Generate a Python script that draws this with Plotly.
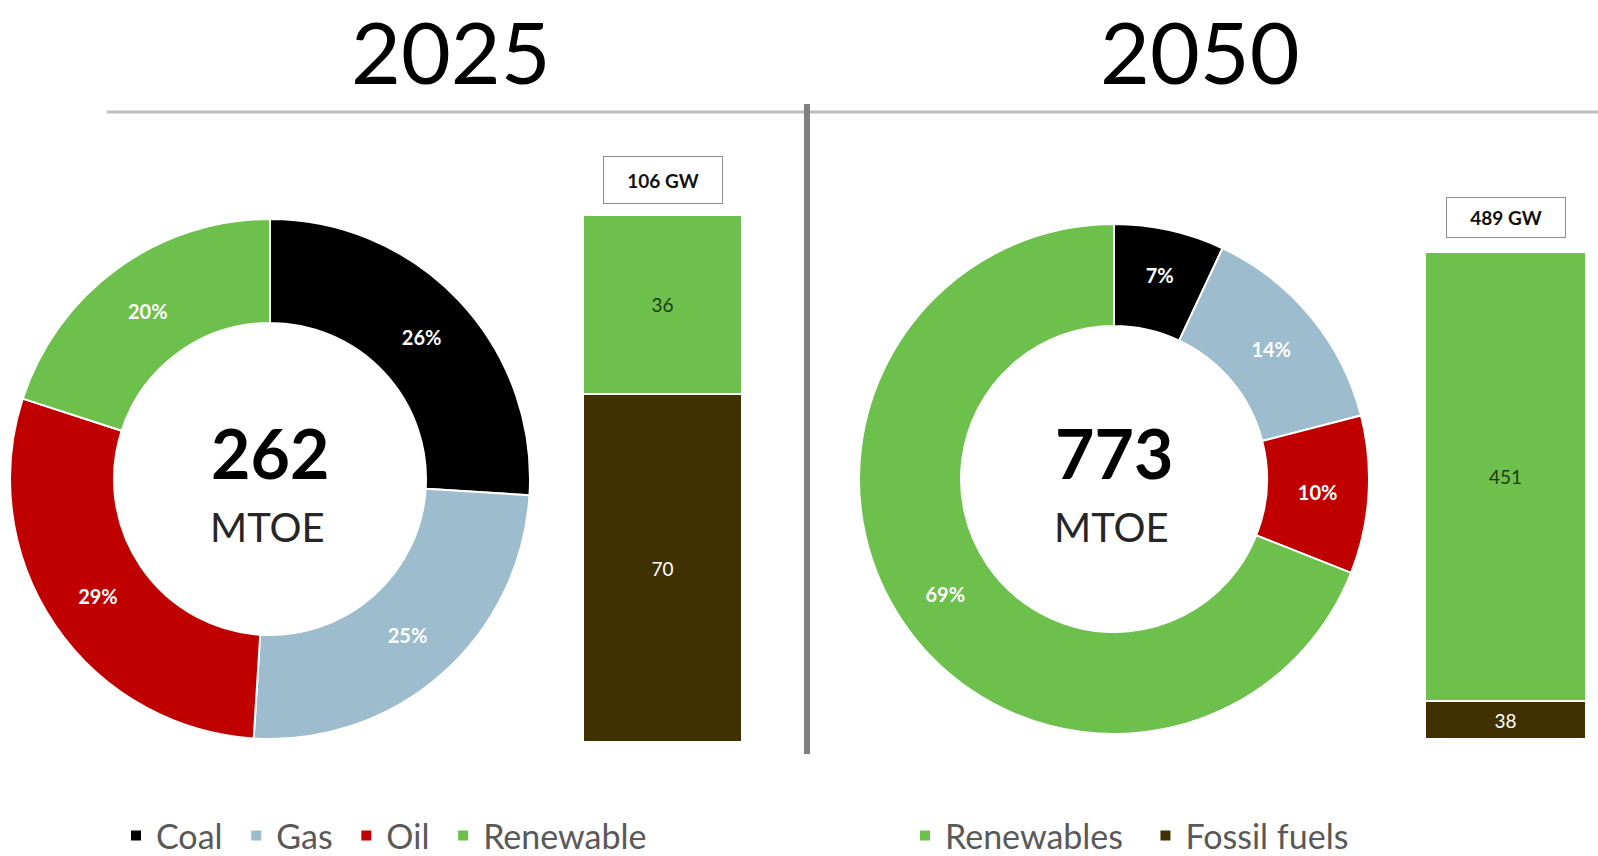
import plotly.graph_objects as go

W, H = 1598, 856

# ---------------- data ----------------
years = ["2025", "2050"]
mix_labels = ["Coal", "Gas", "Oil", "Renewable"]
mix_share_2025 = [26, 25, 29, 20]
mix_share_2050 = [7, 14, 10, 69]
total_mtoe = [262, 773]
mtoe_unit = "MTOE"

cap_labels = ["Fossil fuels", "Renewables"]
cap_2025 = [70, 36]
cap_2050 = [38, 451]
cap_total = [106, 489]

# ---------------- styles ----------------
mix_colors = ["#000000", "#9dbccd", "#c00000", "#6cc04b"]
cap_colors = ["#3f3200", "#6cc04b"]
cap_text_colors = ["#ffffff", "#1e3a12"]
FONT = "Lato"
PAD1 = "\u00a0"          # extra spacing between legend entries (left legend)
PAD2 = "\u00a0\u00a0"    # extra spacing between legend entries (right legend)

def px_x(v):
    return v / W

def px_y(v):  # pixel from top -> paper
    return 1 - v / H

fig = go.Figure()

# legend-friendly labels (last entry of each legend gets no padding)
mix_legend_labels = [lab + PAD1 for lab in mix_labels[:-1]] + [mix_labels[-1]]
cap_legend_labels = [cap_labels[0], cap_labels[1] + PAD2]

# donuts
pie_geo = [  # (cx, cy, r) in pixels
    (270, 479, 260),
    (1114, 479, 255),
]
for i, shares in enumerate([mix_share_2025, mix_share_2050]):
    cx, cy, r = pie_geo[i]
    fig.add_trace(go.Pie(
        labels=mix_legend_labels,
        values=shares,
        hole=0.6,
        sort=False,
        direction="clockwise",
        rotation=0,
        marker=dict(colors=mix_colors, line=dict(color="#ffffff", width=2)),
        texttemplate="<b>%{value}%</b>",
        textposition="inside",
        insidetextorientation="horizontal",
        textfont=dict(family=FONT, size=20, color="#ffffff"),
        domain=dict(x=[px_x(cx - r), px_x(cx + r)], y=[px_y(cy + r), px_y(cy - r)]),
        showlegend=(i == 0),
        legend="legend",
        hoverinfo="label+percent",
    ))

# stacked capacity bars
bar_geo = [  # (x0, x1, ytop, ybottom) pixels
    (583, 742, 215, 742),
    (1425, 1586, 252, 739),
]
for i, vals in enumerate([cap_2025, cap_2050]):
    xa = "x" if i == 0 else "x2"
    ya = "y" if i == 0 else "y2"
    for j, lab in enumerate(cap_legend_labels):
        fig.add_trace(go.Bar(
            x=[years[i]], y=[vals[j]], name=lab,
            xaxis=xa, yaxis=ya, width=1,
            marker=dict(color=cap_colors[j], line=dict(color="#ffffff", width=2)),
            text=[vals[j]], texttemplate="%{text}",
            textposition="inside", insidetextanchor="middle",
            textfont=dict(family=FONT, size=19, color=cap_text_colors[j]),
            constraintext="none",
            showlegend=(i == 1), legend="legend2",
        ))

layout_axes = {}
for i in range(2):
    x0, x1, yt, yb = bar_geo[i]
    sx = "" if i == 0 else "2"
    layout_axes["xaxis" + sx] = dict(domain=[px_x(x0), px_x(x1)], visible=False,
                                     range=[-0.5, 0.5], anchor="y" + sx, fixedrange=True)
    layout_axes["yaxis" + sx] = dict(domain=[px_y(yb), px_y(yt)], visible=False,
                                     range=[0, cap_total[i]], anchor="x" + sx, fixedrange=True)

annotations = []
# year titles
for xc, yr in zip([451, 1200], years):
    annotations.append(dict(x=px_x(xc), y=px_y(51), xref="paper", yref="paper",
                            text=yr, showarrow=False,
                            font=dict(family=FONT, size=86, color="#000000"),
                            xanchor="center", yanchor="middle"))
# centre totals
for i, tot in enumerate(total_mtoe):
    cx, cy, r = pie_geo[i]
    annotations.append(dict(x=px_x(cx), y=px_y(452), xref="paper", yref="paper",
                            text=f"<b>{tot}</b>", showarrow=False,
                            font=dict(family=FONT, size=68, color="#000000"),
                            xanchor="center", yanchor="middle"))
    annotations.append(dict(x=px_x(cx - 3), y=px_y(527), xref="paper", yref="paper",
                            text=mtoe_unit, showarrow=False,
                            font=dict(family=FONT, size=40, color="#262626"),
                            xanchor="center", yanchor="middle"))
# GW boxes
for i, tot in enumerate(cap_total):
    sx = "" if i == 0 else "2"
    annotations.append(dict(x=0.5, xref="x" + sx + " domain", y=tot, yref="y" + sx,
                            text=f"<b>{tot} GW</b>", showarrow=False,
                            xanchor="center", yanchor="bottom",
                            yshift=11 if i == 0 else 14,
                            width=110, height=38 if i == 0 else 31,
                            bordercolor="#8c8c8c", borderwidth=1, borderpad=4,
                            bgcolor="#ffffff",
                            font=dict(family=FONT, size=19, color="#111111")))

shapes = [
    dict(type="line", xref="paper", yref="paper",
         x0=px_x(107), x1=1, y0=px_y(112), y1=px_y(112),
         line=dict(color="#bfbfbf", width=3)),
    dict(type="line", xref="paper", yref="paper",
         x0=px_x(807), x1=px_x(807), y0=px_y(104), y1=px_y(754),
         line=dict(color="#808080", width=6)),
]

fig.update_layout(
    width=W, height=H,
    margin=dict(l=0, r=0, t=0, b=0, autoexpand=False),
    paper_bgcolor="#ffffff", plot_bgcolor="#ffffff",
    barmode="stack", bargap=0,
    font=dict(family=FONT),
    annotations=annotations,
    shapes=shapes,
    legend=dict(orientation="h", x=px_x(116), xanchor="left", y=px_y(836), yanchor="middle",
                font=dict(family=FONT, size=34, color="#595959"),
                bgcolor="rgba(0,0,0,0)"),
    legend2=dict(orientation="h", x=px_x(905), xanchor="left", y=px_y(836), yanchor="middle",
                 traceorder="reversed",
                 font=dict(family=FONT, size=34, color="#595959"),
                 bgcolor="rgba(0,0,0,0)"),
    **layout_axes,
)

fig.write_html(
    "out.html",
    config={"displayModeBar": False},
    post_script="document.body.style.margin='0';document.body.style.overflow='hidden';",
)
